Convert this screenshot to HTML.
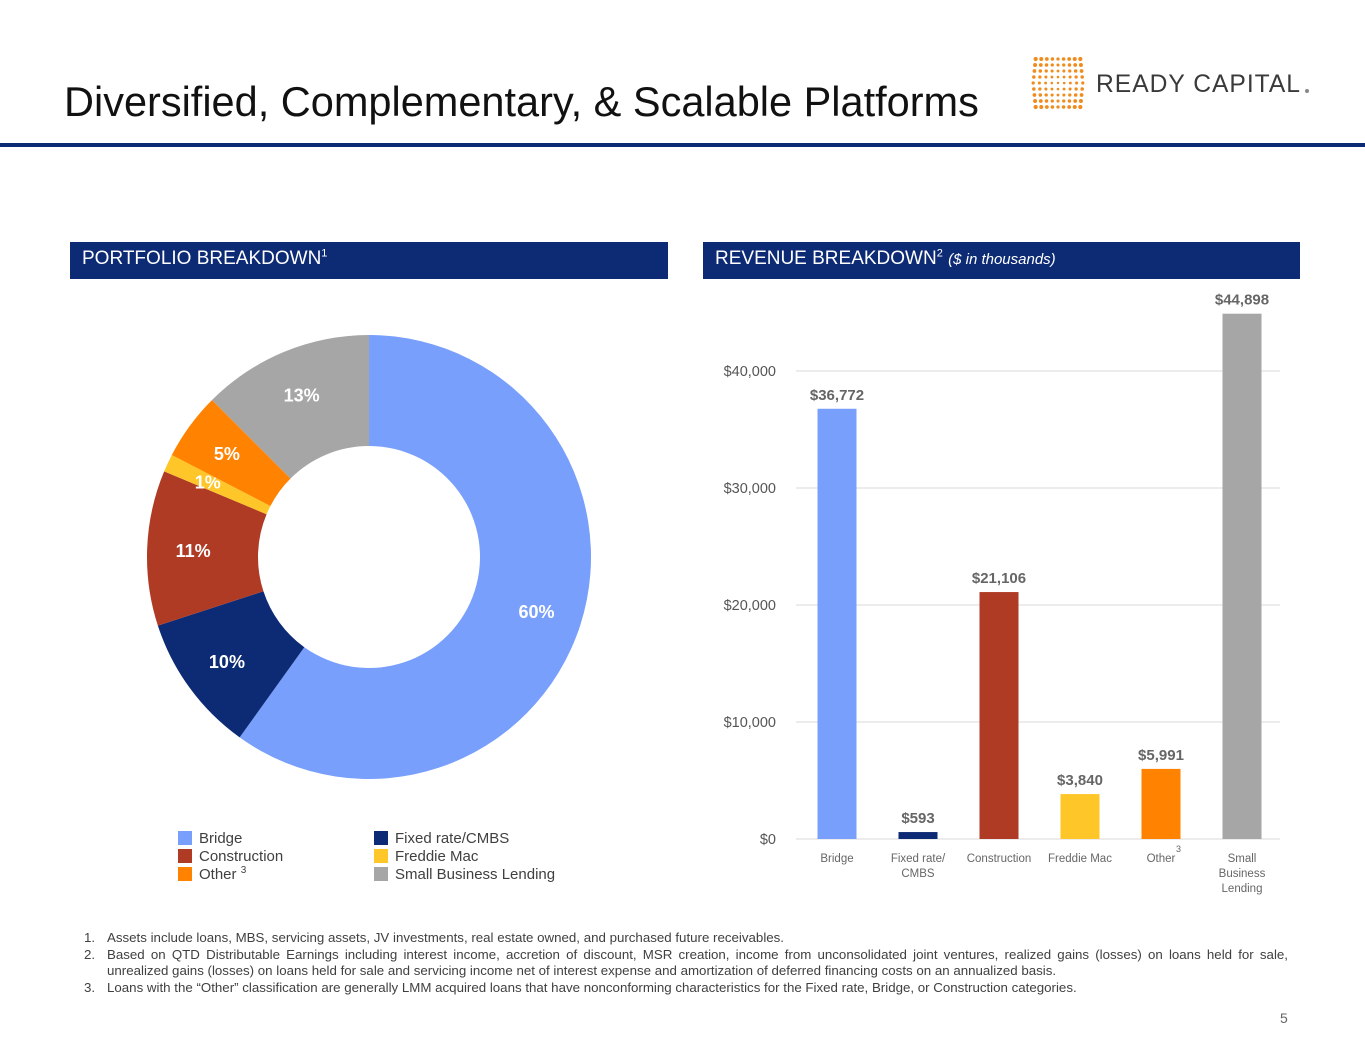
<!DOCTYPE html>
<html><head><meta charset="utf-8"><style>
body{margin:0;width:1365px;height:1055px;background:#fff;font-family:"Liberation Sans",Arial,sans-serif;position:relative;overflow:hidden}
.abs{position:absolute}
.hdr{background:#0d2a75;color:#fff;font-size:19px;height:37px;line-height:34px;padding-left:12px;box-sizing:border-box}
.fn{font-size:13.3px;color:#404040;line-height:16.5px}
.leg{font-size:15px;color:#404040}
.leg div div{height:18px}
.sw{display:inline-block;width:14px;height:14px;vertical-align:-2px;margin-right:7px}
sup{line-height:0}
</style></head><body>
<div class="abs" style="left:64px;top:78px;font-size:41.5px;color:#111">Diversified, Complementary, &amp; Scalable Platforms</div>
<svg class="abs" style="left:1028px;top:54px" width="290" height="60">
<g fill="#f08c1e" id="dots"></g>
<text x="68" y="38" font-size="25" fill="#3a3a3a" font-family="Liberation Sans" letter-spacing="1" textLength="205" lengthAdjust="spacingAndGlyphs">READY CAPITAL</text>
<circle cx="279" cy="37" r="2" fill="#888"/>
</svg>
<div class="abs" style="left:0;top:143px;width:1365px;height:4px;background:#0d2a75"></div>
<div class="abs hdr" style="left:70px;top:242px;width:598px">PORTFOLIO BREAKDOWN<sup style="font-size:11px">1</sup></div>
<div class="abs hdr" style="left:703px;top:242px;width:597px">REVENUE BREAKDOWN<sup style="font-size:11px">2</sup> <i style="font-size:15px">($ in thousands)</i></div>
<svg class="abs" id="donut" style="left:0;top:0" width="700" height="900"></svg>
<svg class="abs" id="bars" style="left:0;top:0" width="1365" height="910"></svg>
<div class="abs leg" style="left:178px;top:830px;line-height:18px">
<div style="position:absolute;left:0;top:0;width:200px"><div><span class="sw" style="background:#789ffb"></span>Bridge</div><div><span class="sw" style="background:#b03b25"></span>Construction</div><div><span class="sw" style="background:#ff8200"></span>Other <sup style="font-size:10px">3</sup></div></div>
<div style="position:absolute;left:196px;top:0;width:220px"><div><span class="sw" style="background:#0d2a75"></span>Fixed rate/CMBS</div><div><span class="sw" style="background:#ffc629"></span>Freddie Mac</div><div><span class="sw" style="background:#a6a6a6"></span>Small Business Lending</div></div>
</div>
<div class="abs fn" style="left:84px;top:930px;width:1204px">
<div style="display:flex"><span style="width:23px;flex:none">1.</span><span>Assets include loans, MBS, servicing assets, JV investments, real estate owned, and purchased future receivables.</span></div>
<div style="display:flex"><span style="width:23px;flex:none">2.</span><span style="text-align:justify">Based on QTD Distributable Earnings including interest income, accretion of discount, MSR creation, income from unconsolidated joint ventures, realized gains (losses) on loans held for sale, unrealized gains (losses) on loans held for sale and servicing income net of interest expense and amortization of deferred financing costs on an annualized basis.</span></div>
<div style="display:flex"><span style="width:23px;flex:none">3.</span><span>Loans with the “Other” classification are generally LMM acquired loans that have nonconforming characteristics for the Fixed rate, Bridge, or Construction categories.</span></div>
</div>
<div class="abs" style="left:1280px;top:1010px;font-size:14px;color:#666">5</div>
<script>
const pieLabels=["60%","10%","11%","1%","5%","13%"];
const pieValues=[59.9,10.1,11.3,1.3,4.9,12.5];
const pieColors=["#789ffb","#0d2a75","#b03b25","#ffc629","#ff8200","#a6a6a6"];
const barCats=["Bridge","Fixed rate/|CMBS","Construction","Freddie Mac","Other","Small|Business|Lending"];
const barValues=[36772,593,21106,3840,5991,44898];
const barLabels=["$36,772","$593","$21,106","$3,840","$5,991","$44,898"];
const yTicks=[0,10000,20000,30000,40000];
const yTickLabels=["$0","$10,000","$20,000","$30,000","$40,000"];
const NS="http://www.w3.org/2000/svg";
function mk(p,t,a){const e=document.createElementNS(NS,t);for(const k in a)e.setAttribute(k,a[k]);p.appendChild(e);return e;}
const dg=document.getElementById('dots');
for(let i=0;i<9;i++)for(let j=0;j<9;j++){const dx=(i-4),dy=(j-4);
mk(dg,'circle',{cx:30+dx*6.2*(1-0.1*Math.abs(dy)/4),cy:29+dy*6,r:1.2+0.9*(Math.abs(dx)+Math.abs(dy))/8});}
const d=document.getElementById('donut');
const cx=369,cy=557,R=222,r=111;
const tot=pieValues.reduce((a,b)=>a+b,0);let a0=0;
pieValues.forEach((v,i)=>{const a1=a0+v/tot*2*Math.PI;
const p=(a,rr)=>[cx+rr*Math.sin(a),cy-rr*Math.cos(a)];
const [x1,y1]=p(a0,R),[x2,y2]=p(a1,R),[x3,y3]=p(a1,r),[x4,y4]=p(a0,r);const lg=(a1-a0)>Math.PI?1:0;
const s=mk(d,'path',{d:`M${x1},${y1}A${R},${R} 0 ${lg} 1 ${x2},${y2}L${x3},${y3}A${r},${r} 0 ${lg} 0 ${x4},${y4}Z`,fill:pieColors[i]});


const am=(a0+a1)/2;const rl=i==3?178:176;const [lx,ly]=p(am,rl);
const t=mk(d,'text',{x:lx,y:ly+7,'text-anchor':'middle','font-size':18,'font-weight':'bold',fill:'#fff','font-family':'Liberation Sans'});t.textContent=pieLabels[i];


a0=a1;});
const b=document.getElementById('bars');
const y0=839,sc=468/40000,x0=837,step=81,bw=39;
const Y=v=>y0-v*sc,X=i=>x0+i*step;
yTicks.forEach((v,i)=>{mk(b,'line',{x1:796,x2:1280,y1:Y(v),y2:Y(v),stroke:'#d9d9d9','stroke-width':1});
const t=mk(b,'text',{x:776,y:Y(v)+5,'text-anchor':'end','font-size':14.5,fill:'#555','font-family':'Liberation Sans'});t.textContent=yTickLabels[i];

});
barValues.forEach((v,i)=>{const rc=mk(b,'rect',{x:X(i)-bw/2,y:Y(v),width:bw,height:y0-Y(v),fill:pieColors[i]});


const t=mk(b,'text',{x:X(i),y:Y(v)-9,'text-anchor':'middle','font-size':15,'font-weight':'bold',fill:'#666','font-family':'Liberation Sans'});t.textContent=barLabels[i];


barCats[i].split('|').forEach((ln,k)=>{const c=mk(b,'text',{x:X(i),y:862+k*15,'text-anchor':'middle','font-size':11.5,fill:'#666','font-family':'Liberation Sans'});c.textContent=ln;

});});
const sup=mk(b,'text',{x:1176,y:852,'font-size':9,fill:'#666','font-family':'Liberation Sans'});sup.textContent='3';
</script>
</body></html>
